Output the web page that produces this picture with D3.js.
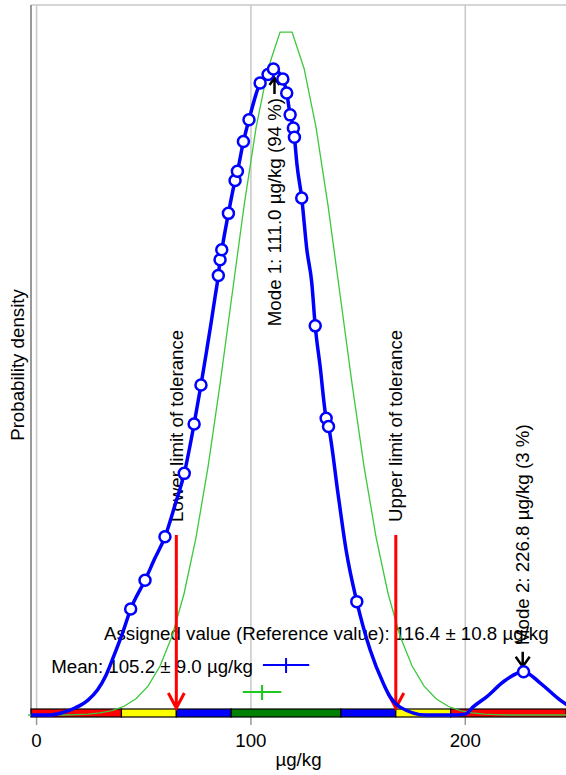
<!DOCTYPE html>
<html>
<head>
<meta charset="utf-8">
<script src="https://d3js.org/d3.v7.min.js"></script>
<style>
  body { margin: 0; background: #fff; }
  text { font-family: Arial, "Liberation Sans", sans-serif; fill: #000; font-size: 18.7px; }
  .grid { stroke: #c8c8c8; stroke-width: 1.5px; }
  .kde { fill: none; stroke: #0000ff; stroke-width: 3.5px; }
  .norm { fill: none; stroke: #3cc83c; stroke-width: 1.3px; }
  .pt { fill: #fff; stroke: #0000ff; stroke-width: 2.5px; }
</style>
</head>
<body>
<svg width="566" height="775"></svg>
<script>
// x values in µg/kg, densities in 1/1000 per µg/kg
var xTicks = [0, 100, 200];

var kdeX = [-2.6, 6.3, 11.9, 17.9, 24.0, 28.4, 32.4, 36.6, 40.3, 43.9, 50.6, 55.3, 59.9, 64.6, 68.9, 73.5, 76.7,
  79.4, 81.4, 83.3, 84.8, 85.6, 86.4, 89.5, 92.6, 93.7, 96.5, 99.1, 104.3, 108.0, 110.5, 114.9, 116.7, 118.3,
  119.8, 120.3, 121.5, 123.7, 126.1, 128.4, 130.0, 132.3, 135.1, 136.2, 140.7, 144.4, 149.4, 155.6, 161.7,
  165.0, 169.6, 181.7, 193.4, 200.0, 203.8, 210.1, 217.8, 227.2, 235.0, 244.3, 249.0];
var kdeY = [0, 0, 0.05, 0.16, 0.34, 0.57, 0.91, 1.42, 1.90, 2.42, 3.08, 3.59, 4.07, 4.80, 5.52, 6.65, 7.54,
  8.34, 8.95, 9.56, 10.04, 10.40, 10.63, 11.46, 12.21, 12.42, 13.10, 13.60, 14.44, 14.63, 14.76, 14.53, 14.21, 13.71,
  13.41, 13.20, 12.57, 11.81, 10.63, 9.87, 8.89, 7.96, 6.78, 6.59, 5.03, 3.77, 2.59, 1.49, 0.73,
  0.41, 0.18, 0, 0, 0.02, 0.19, 0.42, 0.76, 0.99, 0.73, 0.34, 0.18];

var pointX = [43.9, 50.6, 59.9, 68.9, 73.5, 76.7, 84.8, 85.6, 86.4, 89.5, 92.6, 93.7, 96.5, 99.1, 104.3, 108.0,
  110.5, 114.9, 116.7, 118.3, 119.8, 120.3, 123.7, 130.0, 135.1, 136.2, 149.4, 227.2];
var pointY = [2.42, 3.08, 4.07, 5.52, 6.65, 7.54, 10.04, 10.40, 10.63, 11.46, 12.21, 12.42, 13.10, 13.60, 14.44, 14.63,
  14.76, 14.53, 14.21, 13.71, 13.41, 13.20, 11.81, 8.89, 6.78, 6.59, 2.59, 0.99];

var normX = [-4.0, 1.6, 7.2, 12.8, 18.4, 24.0, 29.6, 35.2, 40.8, 46.4, 52.0, 57.6, 63.2, 68.8, 74.4, 80.0, 85.6,
  91.2, 96.8, 102.4, 108.0, 113.6, 119.2, 124.8, 130.4, 136.0, 141.6, 147.2, 152.8, 158.4, 164.0, 169.6, 175.2,
  180.8, 186.4, 192.0, 197.6, 203.2, 208.8, 214.4, 220.0, 225.6, 231.2, 236.8, 242.4, 248.0];
var normY = [0, 0, 0, 0, 0.01, 0.02, 0.05, 0.10, 0.20, 0.37, 0.66, 1.12, 1.80, 2.77, 4.06, 5.67, 7.56,
  9.60, 11.63, 13.42, 14.77, 15.60, 15.60, 14.77, 13.42, 11.63, 9.60, 7.56, 5.67, 4.06, 2.77, 1.80, 1.12,
  0.66, 0.37, 0.20, 0.10, 0.05, 0.02, 0.01, 0, 0, 0, 0, 0, 0];

var bandEdges = [-2.6, 39.6, 65.2, 90.8, 142.0, 167.6, 193.2, 247.0];
var bandColors = ["#ff0000", "#ffff00", "#0000ff", "#008000", "#0000ff", "#ffff00", "#ff0000"];

var assigned = 116.4, assignedU = 10.8;
var mean = 105.2, meanU = 9.0;
var tolLimits = [65.2, 167.6];
var tolNames = ["Lower limit of tolerance", "Upper limit of tolerance"];
var modes = [111.0, 226.8];
var modeY = [14.76, 0.99];
var modeShare = [94, 3];

var svg = d3.select("svg");
var x = d3.scaleLinear().domain([-2.6, 247.0]).range([31, 566]);
var y = d3.scaleLinear().domain([0, 16.22]).range([715, 5]);
var bandTop = 709, bandH = 8;

// frame + grid
svg.selectAll("line.grid").data(xTicks).enter().append("line")
  .attr("class", "grid")
  .attr("x1", function(d) { return x(d); }).attr("x2", function(d) { return x(d); })
  .attr("y1", 5).attr("y2", bandTop);
svg.append("line").attr("x1", 31).attr("x2", 566).attr("y1", 5).attr("y2", 5)
  .attr("stroke", "#c8c8c8").attr("stroke-width", 1.5);
svg.append("line").attr("x1", 31).attr("x2", 31).attr("y1", 5).attr("y2", bandTop + bandH)
  .attr("stroke", "#999").attr("stroke-width", 2);

// x axis
svg.selectAll("line.tick").data(xTicks).enter().append("line")
  .attr("x1", function(d) { return x(d); }).attr("x2", function(d) { return x(d); })
  .attr("y1", bandTop + bandH).attr("y2", bandTop + bandH + 8)
  .attr("stroke", "#999").attr("stroke-width", 1.5);
svg.selectAll("text.tick").data(xTicks).enter().append("text")
  .attr("x", function(d) { return x(d); }).attr("y", 747)
  .attr("text-anchor", "middle")
  .text(function(d) { return d; });
svg.append("text").attr("x", 298.5).attr("y", 766).attr("text-anchor", "middle").text("µg/kg");
svg.append("text").attr("transform", "translate(24,365) rotate(-90)")
  .attr("text-anchor", "middle").text("Probability density");

// tolerance band
var segs = d3.range(bandColors.length);
svg.selectAll("rect.band").data(segs).enter().append("rect")
  .attr("x", function(i) { return x(bandEdges[i]); })
  .attr("width", function(i) { return x(bandEdges[i + 1]) - x(bandEdges[i]); })
  .attr("y", bandTop).attr("height", bandH)
  .attr("fill", function(i) { return bandColors[i]; })
  .attr("stroke", "#000").attr("stroke-width", 1.2);

// labels
svg.selectAll("text.tol").data(tolLimits).enter().append("text")
  .attr("transform", function(d) { return "translate(" + x(d) + ",522) rotate(-90)"; })
  .attr("dy", "0.35em")
  .text(function(d, i) { return tolNames[i]; });

svg.append("text").attr("transform", "translate(" + x(modes[0]) + ",98) rotate(-90)")
  .attr("dy", "0.35em").attr("text-anchor", "end")
  .text("Mode 1: " + modes[0].toFixed(1) + " µg/kg (" + modeShare[0] + " %)");
svg.append("text").attr("transform", "translate(" + x(modes[1]) + ",645) rotate(-90)")
  .attr("dy", "0.35em").attr("text-anchor", "start")
  .text("Mode 2: " + modes[1].toFixed(1) + " µg/kg (" + modeShare[1] + " %)");

svg.append("text").attr("x", 104).attr("y", 640)
  .text("Assigned value (Reference value): " + assigned.toFixed(1) + " ± " + assignedU.toFixed(1) + " µg/kg");
svg.append("text").attr("x", 253).attr("y", 673).attr("text-anchor", "end")
  .text("Mean: " + mean.toFixed(1) + " ± " + meanU.toFixed(1) + " µg/kg");

// uncertainty crosses
var crosses = [
  { c: assigned, u: assignedU, yy: 665, col: "#0000ff" },
  { c: mean, u: meanU, yy: 692, col: "#1ec81e" }
];
crosses.forEach(function(k) {
  svg.append("line").attr("x1", x(k.c - k.u)).attr("x2", x(k.c + k.u))
    .attr("y1", k.yy).attr("y2", k.yy).attr("stroke", k.col).attr("stroke-width", 2);
  svg.append("line").attr("x1", x(k.c)).attr("x2", x(k.c))
    .attr("y1", k.yy - 7).attr("y2", k.yy + 8).attr("stroke", k.col).attr("stroke-width", 2);
});

// normal curve
var normPts = normX.map(function(v, i) { return [v, normY[i]]; });
svg.append("path").attr("class", "norm")
  .attr("d", d3.line().x(function(d) { return x(d[0]); }).y(function(d) { return y(d[1]); })(normPts));

// tolerance arrows
svg.selectAll("path.tolarrow").data(tolLimits).enter().append("path")
  .attr("d", function(d) {
    var px = x(d);
    return "M" + px + ",535 L" + px + "," + (bandTop - 1) +
      " M" + (px - 8) + "," + (bandTop - 16) + " L" + px + "," + (bandTop - 1) + " L" + (px + 8) + "," + (bandTop - 16);
  })
  .attr("fill", "none").attr("stroke", "#ff0000").attr("stroke-width", 3);

// mode arrows
svg.append("path")
  .attr("d", function() {
    var px = x(modes[0]), t = y(modeY[0]) + 9;
    return "M" + px + "," + (t + 16) + " L" + px + "," + t +
      " M" + (px - 5) + "," + (t + 7) + " L" + px + "," + t + " L" + (px + 5) + "," + (t + 7);
  })
  .attr("fill", "none").attr("stroke", "#000").attr("stroke-width", 2.5);
svg.append("path")
  .attr("d", function() {
    var px = x(modes[1]), t = y(modeY[1]) - 5;
    return "M" + px + "," + (t - 15) + " L" + px + "," + t +
      " M" + (px - 7) + "," + (t - 10) + " L" + px + "," + t + " L" + (px + 7) + "," + (t - 10);
  })
  .attr("fill", "none").attr("stroke", "#000").attr("stroke-width", 2.5);

// kernel density
var kdePts = kdeX.map(function(v, i) { return [v, kdeY[i]]; });
svg.append("path").attr("class", "kde")
  .attr("d", d3.line().curve(d3.curveMonotoneX)
    .x(function(d) { return x(d[0]); }).y(function(d) { return y(d[1]); })(kdePts));

svg.selectAll("circle.pt").data(pointX).enter().append("circle")
  .attr("class", "pt")
  .attr("cx", function(d) { return x(d); })
  .attr("cy", function(d, i) { return y(pointY[i]); })
  .attr("r", 5.5);
</script>
</body>
</html>
